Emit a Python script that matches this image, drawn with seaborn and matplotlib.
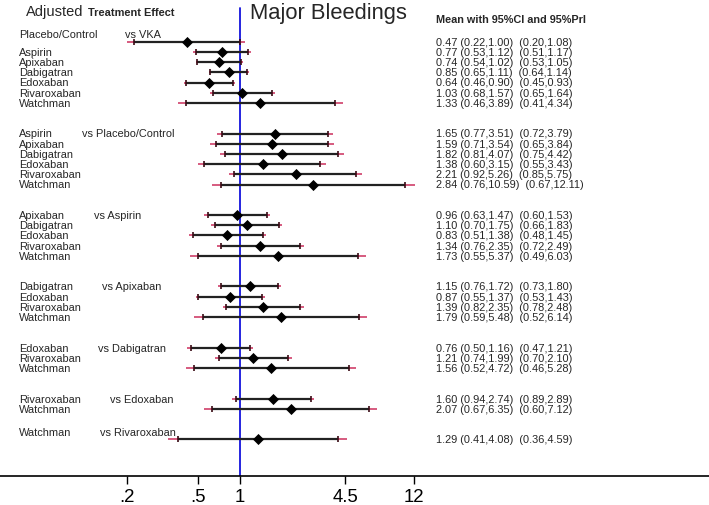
import numpy as np
import pandas as pd
import matplotlib
matplotlib.use("Agg")
import matplotlib.pyplot as plt
import seaborn as sns

# treatments in network order; group k compares treatments[k:] against comparators[k]
treatments = ["Placebo/Control", "Aspirin", "Apixaban", "Dabigatran",
              "Edoxaban", "Rivaroxaban", "Watchman"]
comparators = ["VKA", "Placebo/Control", "Aspirin", "Apixaban",
               "Dabigatran", "Edoxaban", "Rivaroxaban"]

mean = [0.47, 0.77, 0.74, 0.85, 0.64, 1.03, 1.33,
        1.65, 1.59, 1.82, 1.38, 2.21, 2.84,
        0.96, 1.10, 0.83, 1.34, 1.73,
        1.15, 0.87, 1.39, 1.79,
        0.76, 1.21, 1.56,
        1.60, 2.07,
        1.29]
ci_lo = [0.22, 0.53, 0.54, 0.65, 0.46, 0.68, 0.46,
         0.77, 0.71, 0.81, 0.60, 0.92, 0.76,
         0.63, 0.70, 0.51, 0.76, 0.55,
         0.76, 0.55, 0.82, 0.59,
         0.50, 0.74, 0.52,
         0.94, 0.67,
         0.41]
ci_hi = [1.00, 1.12, 1.02, 1.11, 0.90, 1.57, 3.89,
         3.51, 3.54, 4.07, 3.15, 5.26, 10.59,
         1.47, 1.75, 1.38, 2.35, 5.37,
         1.72, 1.37, 2.35, 5.48,
         1.16, 1.99, 4.72,
         2.74, 6.35,
         4.08]
pi_lo = [0.20, 0.51, 0.53, 0.64, 0.45, 0.65, 0.41,
         0.72, 0.65, 0.75, 0.55, 0.85, 0.67,
         0.60, 0.66, 0.48, 0.72, 0.49,
         0.73, 0.53, 0.78, 0.52,
         0.47, 0.70, 0.46,
         0.89, 0.60,
         0.36]
pi_hi = [1.08, 1.17, 1.05, 1.14, 0.93, 1.64, 4.34,
         3.79, 3.84, 4.42, 3.43, 5.75, 12.11,
         1.53, 1.83, 1.45, 2.49, 6.03,
         1.80, 1.43, 2.48, 6.14,
         1.21, 2.10, 5.28,
         2.89, 7.12,
         4.59]

tick_vals = [0.2, 0.55, 1, 4.5, 12]
tick_labels = [".2", ".5", "1", "4.5", "12"]

# layout (pixels of the 709x506 canvas)
W, H = 709, 506
vs_x_px = [125, 82, 94, 102, 98, 110, 100]
head_shift = [-0.75, 0, 0, 0, 0, 0, -0.75]
row0_px, row_px = 42.7, 10.2
axis_px = 477


def py2row(py):
    return (py - row0_px) / row_px


# one record per comparison, with a 2-row gap between groups
recs = []
pos = 0
i = 0
for g, comp in enumerate(comparators):
    for j, trt in enumerate(treatments[g:]):
        recs.append(dict(group=g, first=(j == 0), comparator=comp, treatment=trt,
                         y=pos, mean=mean[i], ci_lo=ci_lo[i], ci_hi=ci_hi[i],
                         pi_lo=pi_lo[i], pi_hi=pi_hi[i]))
        pos += 1
        i += 1
    pos += 2
df = pd.DataFrame(recs)

sns.set_theme(style="white")
plt.rcParams["font.family"] = ["Liberation Sans", "DejaVu Sans"]

fig = plt.figure(figsize=(W / 100, H / 100), dpi=100)
ax = fig.add_axes([0, 1 - axis_px / H, 1, axis_px / H])
ax.set_xscale("log")
ax.set_xlim(np.exp(-240 / 70), np.exp((W - 240) / 70))
ax.set_ylim(py2row(axis_px), py2row(0))

ax.axvline(1, ymin=0, ymax=(axis_px - 9) / axis_px, color="#1414dc", lw=1.3, zorder=1)

# prediction intervals (red) then confidence intervals (black)
ax.hlines(df["y"], df["pi_lo"], df["ci_lo"], color="#d0406a", lw=1.2, zorder=2)
ax.hlines(df["y"], df["ci_hi"], df["pi_hi"], color="#d0406a", lw=1.2, zorder=2)
ax.hlines(df["y"], df["ci_lo"], df["ci_hi"], color="#222222", lw=1.6, zorder=3)
for col in ["ci_lo", "ci_hi"]:
    ax.scatter(df[col], df["y"], marker="|", s=20, color="#3a0a14", lw=1.2, zorder=4)
sns.scatterplot(data=df, x="mean", y="y", marker="D", s=32, color="black",
                edgecolor="black", linewidth=0, zorder=5, ax=ax, legend=False)

ax.set_xlabel("")
ax.set_ylabel("")
ax.set_yticks([])
ax.set_xticks(tick_vals)
ax.set_xticklabels(tick_labels, fontsize=13.4)
ax.xaxis.set_minor_locator(matplotlib.ticker.NullLocator())
ax.tick_params(axis="x", direction="out", length=6, width=1, color="black",
               bottom=True, pad=3, labelcolor="black")
for s in ["top", "left", "right"]:
    ax.spines[s].set_visible(False)
ax.spines["bottom"].set_color("black")
ax.spines["bottom"].set_linewidth(1.2)

tr = ax.get_yaxis_transform()
fs = 7.9
for _, r in df.iterrows():
    yl = r["y"] + (head_shift[r["group"]] if r["first"] else 0)
    ax.text(19 / W, yl, r["treatment"], transform=tr, fontsize=fs, va="center", ha="left")
    if r["first"]:
        ax.text(vs_x_px[r["group"]] / W, yl, "vs " + r["comparator"], transform=tr,
                fontsize=fs, va="center", ha="left")
    txt = f"{r['mean']:.2f} ({r['ci_lo']:.2f},{r['ci_hi']:.2f})  ({r['pi_lo']:.2f},{r['pi_hi']:.2f})"
    ax.text(436 / W, r["y"], txt, transform=tr, fontsize=fs, va="center", ha="left")

fig.text(26 / W, 1 - 16 / H, "Adjusted", fontsize=10.5, va="baseline", ha="left")
fig.text(88 / W, 1 - 16 / H, "Treatment Effect", fontsize=7.9, fontweight="bold",
         va="baseline", ha="left")
fig.text(250 / W, 1 - 19 / H, "Major Bleedings", fontsize=15.8, va="baseline", ha="left")
fig.text(436 / W, 1 - 23 / H, "Mean with 95%CI and 95%PrI", fontsize=7.8,
         fontweight="bold", va="baseline", ha="left")

fig.savefig("out.png", dpi=100)
